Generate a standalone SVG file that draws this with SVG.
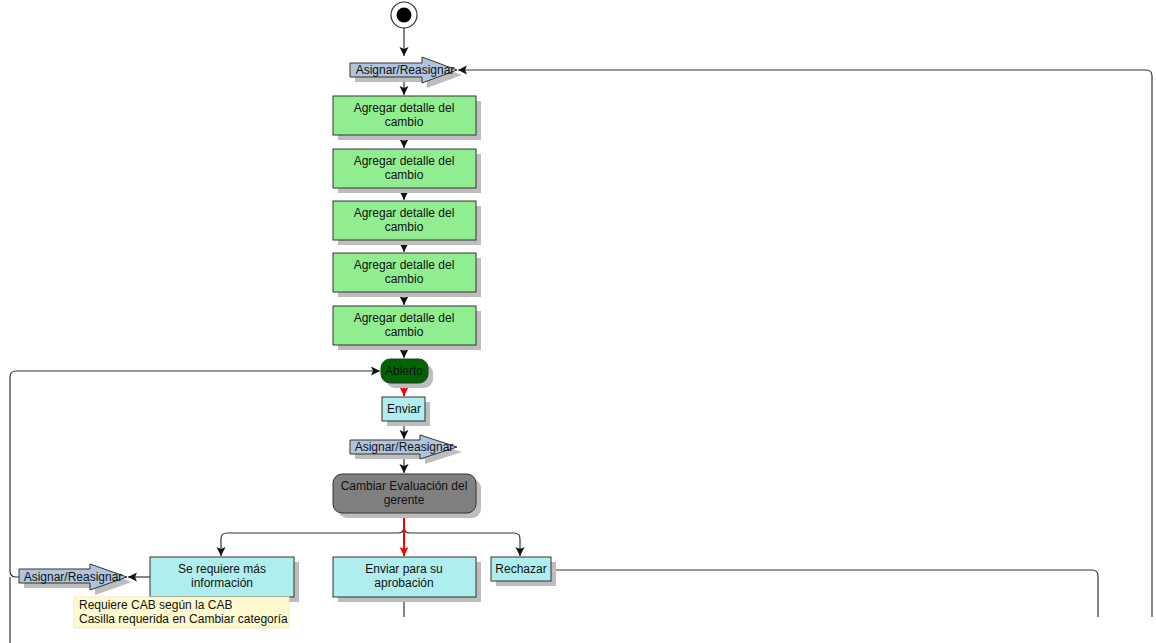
<svg xmlns="http://www.w3.org/2000/svg" width="1156" height="643" viewBox="0 0 1156 643">
<style>
text{font-family:"Liberation Sans",Arial,sans-serif;font-size:12px;fill:#111;text-anchor:middle}
.sh{fill:#bdbdbd}
.g{fill:#90ee90;stroke:#333;stroke-width:1}
.c{fill:#afeeee;stroke:#333;stroke-width:1}
.a{fill:#b0c4de;stroke:#333;stroke-width:1}
.e{fill:none;stroke:#333;stroke-width:1.2}
.r{fill:none;stroke:#ff0000;stroke-width:2}
</style>
<defs>
<marker id="ar" markerUnits="userSpaceOnUse" markerWidth="10" markerHeight="10" refX="9" refY="5" orient="auto">
<path d="M0,0.5 L9,5 L0,9.5 L2,5 z" fill="#111"/>
</marker>
<marker id="arr" markerUnits="userSpaceOnUse" markerWidth="10" markerHeight="10" refX="9" refY="5" orient="auto">
<path d="M0,0.5 L9,5 L0,9.5 L2,5 z" fill="#ff0000"/>
</marker>
</defs>
<rect width="1156" height="643" fill="#fff"/>

<g id="connectors">
<path class="e" d="M404,28 V56" marker-end="url(#ar)"/>
<path class="e" d="M404,77 V95" marker-end="url(#ar)"/>
<path class="e" d="M404,135 V148" marker-end="url(#ar)"/>
<path class="e" d="M404,188 V200" marker-end="url(#ar)"/>
<path class="e" d="M404,240 V252" marker-end="url(#ar)"/>
<path class="e" d="M404,292 V305" marker-end="url(#ar)"/>
<path class="e" d="M404,345 V358" marker-end="url(#ar)"/>
<path class="r" d="M404,383 V396" marker-end="url(#arr)"/>
<path class="e" d="M404,421 V439" marker-end="url(#ar)"/>
<path class="e" d="M404,454 V473" marker-end="url(#ar)"/>
<path class="e" d="M404,513 V527 Q404,533 398,533 H227 Q221,533 221,539 V556" marker-end="url(#ar)"/>
<path class="e" d="M404,513 V527 Q404,533 410,533 H514 Q520,533 520,539 V556" marker-end="url(#ar)"/>
<path class="r" d="M404,514 V556" marker-end="url(#arr)"/>
<path class="e" d="M150,577 H128" marker-end="url(#ar)"/>
<path class="e" d="M19,577 H16 Q10,577 10,571 V377 Q10,371 16,371 H380" marker-end="url(#ar)"/>
<path class="e" d="M10,577 V643"/>
<path class="e" d="M1152,617 V76 Q1152,70 1146,70 H458" marker-end="url(#ar)"/>
<path class="e" d="M551,570 H1092 Q1098,570 1098,576 V617"/>
<path class="e" d="M404,597 V617"/>
</g>

<g id="start">
<circle cx="404" cy="15" r="13" fill="#fff" stroke="#333" stroke-width="1.2"/>
<circle cx="404" cy="15" r="7.5" fill="#000"/>
</g>

<g id="asignar1">
<polygon class="sh" points="355,68 427,68 427,62 462,75 427,88 427,82 355,82"/>
<polygon class="a" points="350,63 422,63 422,57 457,70 422,83 422,77 350,77"/>
<text x="405" y="74">Asignar/Reasignar</text>
</g>

<g id="agregar1">
<rect class="sh" x="338" y="101" width="143" height="39"/>
<rect class="g" x="333" y="96" width="143" height="39"/>
<text x="404" y="112">Agregar detalle del</text>
<text x="404" y="126">cambio</text>
</g>
<g id="agregar2">
<rect class="sh" x="338" y="154" width="143" height="39"/>
<rect class="g" x="333" y="149" width="143" height="39"/>
<text x="404" y="165">Agregar detalle del</text>
<text x="404" y="179">cambio</text>
</g>
<g id="agregar3">
<rect class="sh" x="338" y="206" width="143" height="39"/>
<rect class="g" x="333" y="201" width="143" height="39"/>
<text x="404" y="217">Agregar detalle del</text>
<text x="404" y="231">cambio</text>
</g>
<g id="agregar4">
<rect class="sh" x="338" y="258" width="143" height="39"/>
<rect class="g" x="333" y="253" width="143" height="39"/>
<text x="404" y="269">Agregar detalle del</text>
<text x="404" y="283">cambio</text>
</g>
<g id="agregar5">
<rect class="sh" x="338" y="311" width="143" height="39"/>
<rect class="g" x="333" y="306" width="143" height="39"/>
<text x="404" y="322">Agregar detalle del</text>
<text x="404" y="336">cambio</text>
</g>

<g id="abierto">
<rect class="sh" x="386" y="364" width="47" height="24" rx="9"/>
<rect x="381" y="359" width="47" height="24" rx="9" fill="#006400" stroke="#333"/>
<text x="404" y="375">Abierto</text>
</g>

<g id="enviar">
<rect class="sh" x="387" y="402" width="43" height="24"/>
<rect class="c" x="382" y="397" width="43" height="24"/>
<text x="404" y="413">Enviar</text>
</g>

<g id="asignar2">
<polygon class="sh" points="355,445 425,445 425,440 462,452 425,464 425,459 355,459"/>
<polygon class="a" points="350,440 420,440 420,435 457,447 420,459 420,454 350,454"/>
<text x="404" y="451">Asignar/Reasignar</text>
</g>

<g id="cambiar">
<rect class="sh" x="338" y="479" width="143" height="39" rx="9"/>
<rect x="333" y="474" width="143" height="39" rx="9" fill="#808080" stroke="#333"/>
<text x="404" y="490">Cambiar Evaluación del</text>
<text x="404" y="504">gerente</text>
</g>

<g id="masinfo">
<rect class="sh" x="155" y="562" width="144" height="40"/>
<rect class="c" x="150" y="557" width="144" height="40"/>
<text x="222" y="573">Se requiere más</text>
<text x="222" y="587">información</text>
</g>

<g id="aprobacion">
<rect class="sh" x="338" y="562" width="143" height="40"/>
<rect class="c" x="333" y="557" width="143" height="40"/>
<text x="404" y="573">Enviar para su</text>
<text x="404" y="587">aprobación</text>
</g>

<g id="rechazar">
<rect class="sh" x="496" y="562" width="60" height="24"/>
<rect class="c" x="491" y="557" width="60" height="24"/>
<text x="521" y="573">Rechazar</text>
</g>

<g id="asignar3">
<polygon class="sh" points="24,574 95,574 95,569 132,582 95,595 95,588 24,588"/>
<polygon class="a" points="19,569 90,569 90,564 127,577 90,590 90,583 19,583"/>
<text x="73" y="581">Asignar/Reasignar</text>
</g>

<g id="nota">
<rect x="74" y="597" width="215" height="31" fill="#fffacd" stroke="#f0e8b0" stroke-width="0.8"/>
<text x="79" y="609" style="text-anchor:start">Requiere CAB según la CAB</text>
<text x="79" y="623" style="text-anchor:start">Casilla requerida en Cambiar categoría</text>
</g>
</svg>
